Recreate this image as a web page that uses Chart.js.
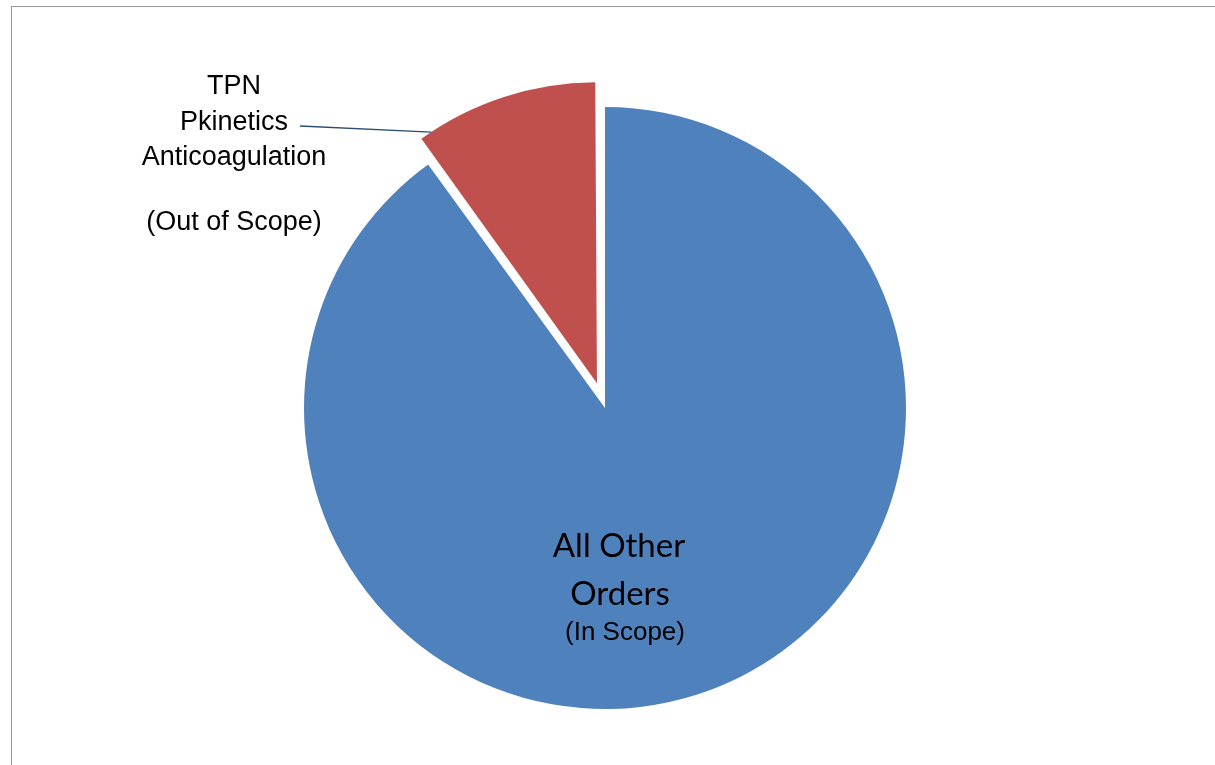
<!DOCTYPE html>
<html>
<head>
    <title>Orders in scope</title>
    <script src="https://cdn.jsdelivr.net/npm/chart.js"></script>
    <style>
        body { margin: 0; background: #fff; }
        #wrap { position: relative; width: 1215px; height: 765px; overflow: hidden; }
        #frame { position: absolute; left: 11px; top: 6px; width: 1220px; height: 800px; border: 1.5px solid #999; box-sizing: border-box; }
        #orderChart { position: absolute; left: 0; top: 0; }
    </style>
</head>
<body>
<div id="wrap">
    <div id="frame"></div>
    <canvas id="orderChart" width="1215" height="765"></canvas>
</div>
<script>
    // 데이터
    const categories = ['All Other Orders', 'Out of Scope'];
    const shares = [90, 10];
    const sliceColors = ['#4F81BD', '#C0504D'];
    // Chart.js v4는 offset/4 만큼 이동함 -> 약 26px 분리
    const sliceOffsets = [0, 104];

    // 라벨 텍스트
    const outLabelLines = ['TPN', 'Pkinetics', 'Anticoagulation', '', '(Out of Scope)'];
    const inLabelLines = ['All Other', 'Orders'];
    const inLabelNote = '(In Scope)';

    // 분리된 조각이 커지지 않도록 반지름 보정
    const explodeFix = {
        id: 'explodeFix',
        beforeDatasetsDraw(chart) {
            const meta = chart.getDatasetMeta(0);
            const baseR = meta.controller.outerRadius;
            meta.data.forEach((arc, i) => {
                const off = (sliceOffsets[i] || 0) / 4;
                const fix = 1 - Math.sin(Math.min(Math.PI, arc.circumference));
                arc.outerRadius = baseR - off * fix;
            });
        }
    };

    // 라벨 그리기 (파이 중심 기준)
    const labelPlugin = {
        id: 'sliceLabels',
        afterDatasetsDraw(chart) {
            const ctx = chart.ctx;
            const meta = chart.getDatasetMeta(0);
            const arcs = meta.data;
            const blue = arcs[0];
            const red = arcs[1];
            const cx = blue.x, cy = blue.y;

            ctx.save();
            ctx.fillStyle = '#000';
            ctx.textAlign = 'center';
            ctx.textBaseline = 'middle';

            // 안쪽 라벨
            ctx.font = '33px Lato, "Noto Sans", sans-serif';
            ctx.fillText(inLabelLines[0], cx + 14, cy + 138);
            ctx.fillText(inLabelLines[1], cx + 15, cy + 186);
            ctx.font = '26px "Liberation Sans", Arial, sans-serif';
            ctx.fillText(inLabelNote, cx + 20, cy + 225);

            // 바깥 라벨
            ctx.font = '27px "Liberation Sans", Arial, sans-serif';
            const lx = cx - 371;
            outLabelLines.forEach((t, i) => {
                if (t) ctx.fillText(t, lx, cy - 321 + i * 35.5 + (i === 4 ? -6 : 0));
            });

            // 지시선
            const mid = (red.startAngle + red.endAngle) / 2;
            const off = sliceOffsets[1] / 4;
            const rx = red.x + Math.cos(mid) * off;
            const ry = red.y + Math.sin(mid) * off;
            const rr = meta.controller.outerRadius;
            const a = red.startAngle + 0.045;
            const ex = rx + Math.cos(a) * rr;
            const ey = ry + Math.sin(a) * rr;
            ctx.strokeStyle = '#2C4D75';
            ctx.lineWidth = 1.3;
            ctx.beginPath();
            ctx.moveTo(lx + 66, cy - 282);
            ctx.lineTo(ex, ey);
            ctx.stroke();
            ctx.restore();
        }
    };

    new Chart(document.getElementById('orderChart'), {
        type: 'pie',
        data: {
            labels: categories,
            datasets: [{
                data: shares,
                backgroundColor: sliceColors,
                borderWidth: 0,
                offset: sliceOffsets,
                hoverOffset: 0
            }]
        },
        options: {
            responsive: false,
            animation: false,
            events: [],
            radius: 301,
            layout: { padding: { top: 51, right: 5 } },
            plugins: {
                legend: { display: false },
                tooltip: { enabled: false }
            }
        },
        plugins: [explodeFix, labelPlugin]
    });
</script>
</body>
</html>
